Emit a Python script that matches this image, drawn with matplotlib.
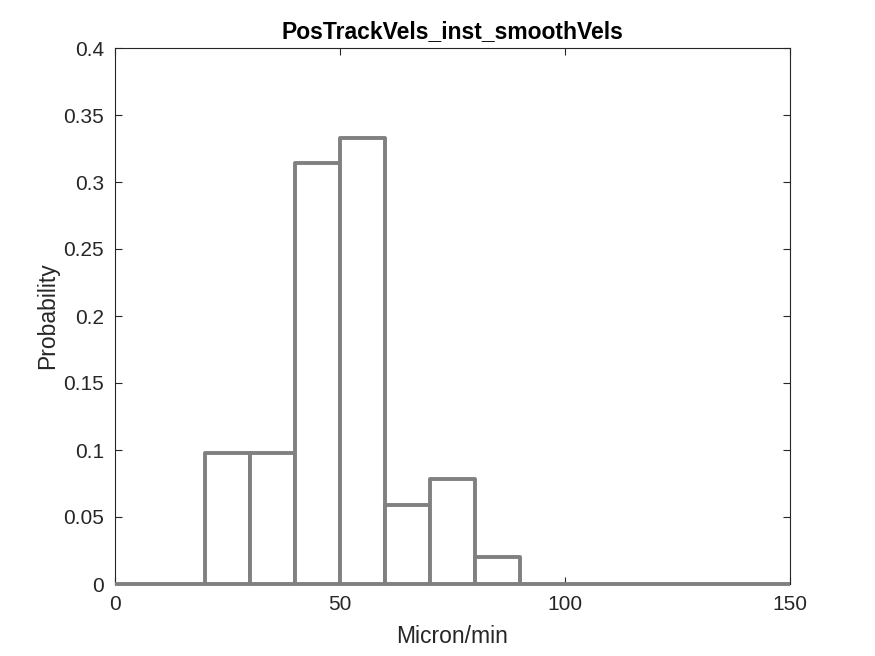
import matplotlib
matplotlib.use("Agg")
import matplotlib.pyplot as plt
import numpy as np

bin_edges = [0, 10, 20, 30, 40, 50, 60, 70, 80, 90, 100, 110, 120, 130, 140, 150]
probabilities = [0, 0, 0.098, 0.098, 0.314, 0.333, 0.059, 0.078, 0.020, 0, 0, 0, 0, 0, 0]
x_ticks = [0, 50, 100, 150]
y_ticks = [0, 0.05, 0.1, 0.15, 0.2, 0.25, 0.3, 0.35, 0.4]
y_tick_labels = ["0", "0.05", "0.1", "0.15", "0.2", "0.25", "0.3", "0.35", "0.4"]

plt.rcParams['font.family'] = ['Liberation Sans', 'DejaVu Sans']

fig = plt.figure(figsize=(8.75, 6.56), dpi=100)
ax = fig.add_axes([115/875, 1-584/656, (790-115)/875, (584-48)/656])

edges = np.array(bin_edges)
widths = np.diff(edges)
bars = ax.bar(edges[:-1], probabilities, width=widths, align='edge',
              facecolor='white', edgecolor='#808080', linewidth=2.8, zorder=4, clip_on=False)
for b in bars:
    b.set_joinstyle('round')

ax.set_xlim(0, 150)
ax.set_ylim(0, 0.4)
ax.set_xticks(x_ticks)
ax.set_yticks(y_ticks)
ax.set_yticklabels(y_tick_labels)
ax.tick_params(direction='in', top=True, right=True, length=5, width=0.8,
               labelsize=15, colors='#262626')
ax.tick_params(axis='x', pad=8)
ax.tick_params(axis='y', pad=8)
for s in ax.spines.values():
    s.set_linewidth(0.8)
    s.set_color('#262626')
    s.set_zorder(3)

ax.set_xlabel('Micron/min', fontsize=16.5, color='#262626', labelpad=8)
ax.set_ylabel('Probability', fontsize=16.5, color='#262626', labelpad=3)
ax.set_title('PosTrackVels_inst_smoothVels', fontsize=16.5, fontweight='bold', pad=7)

fig.savefig('out.png', dpi=100)
